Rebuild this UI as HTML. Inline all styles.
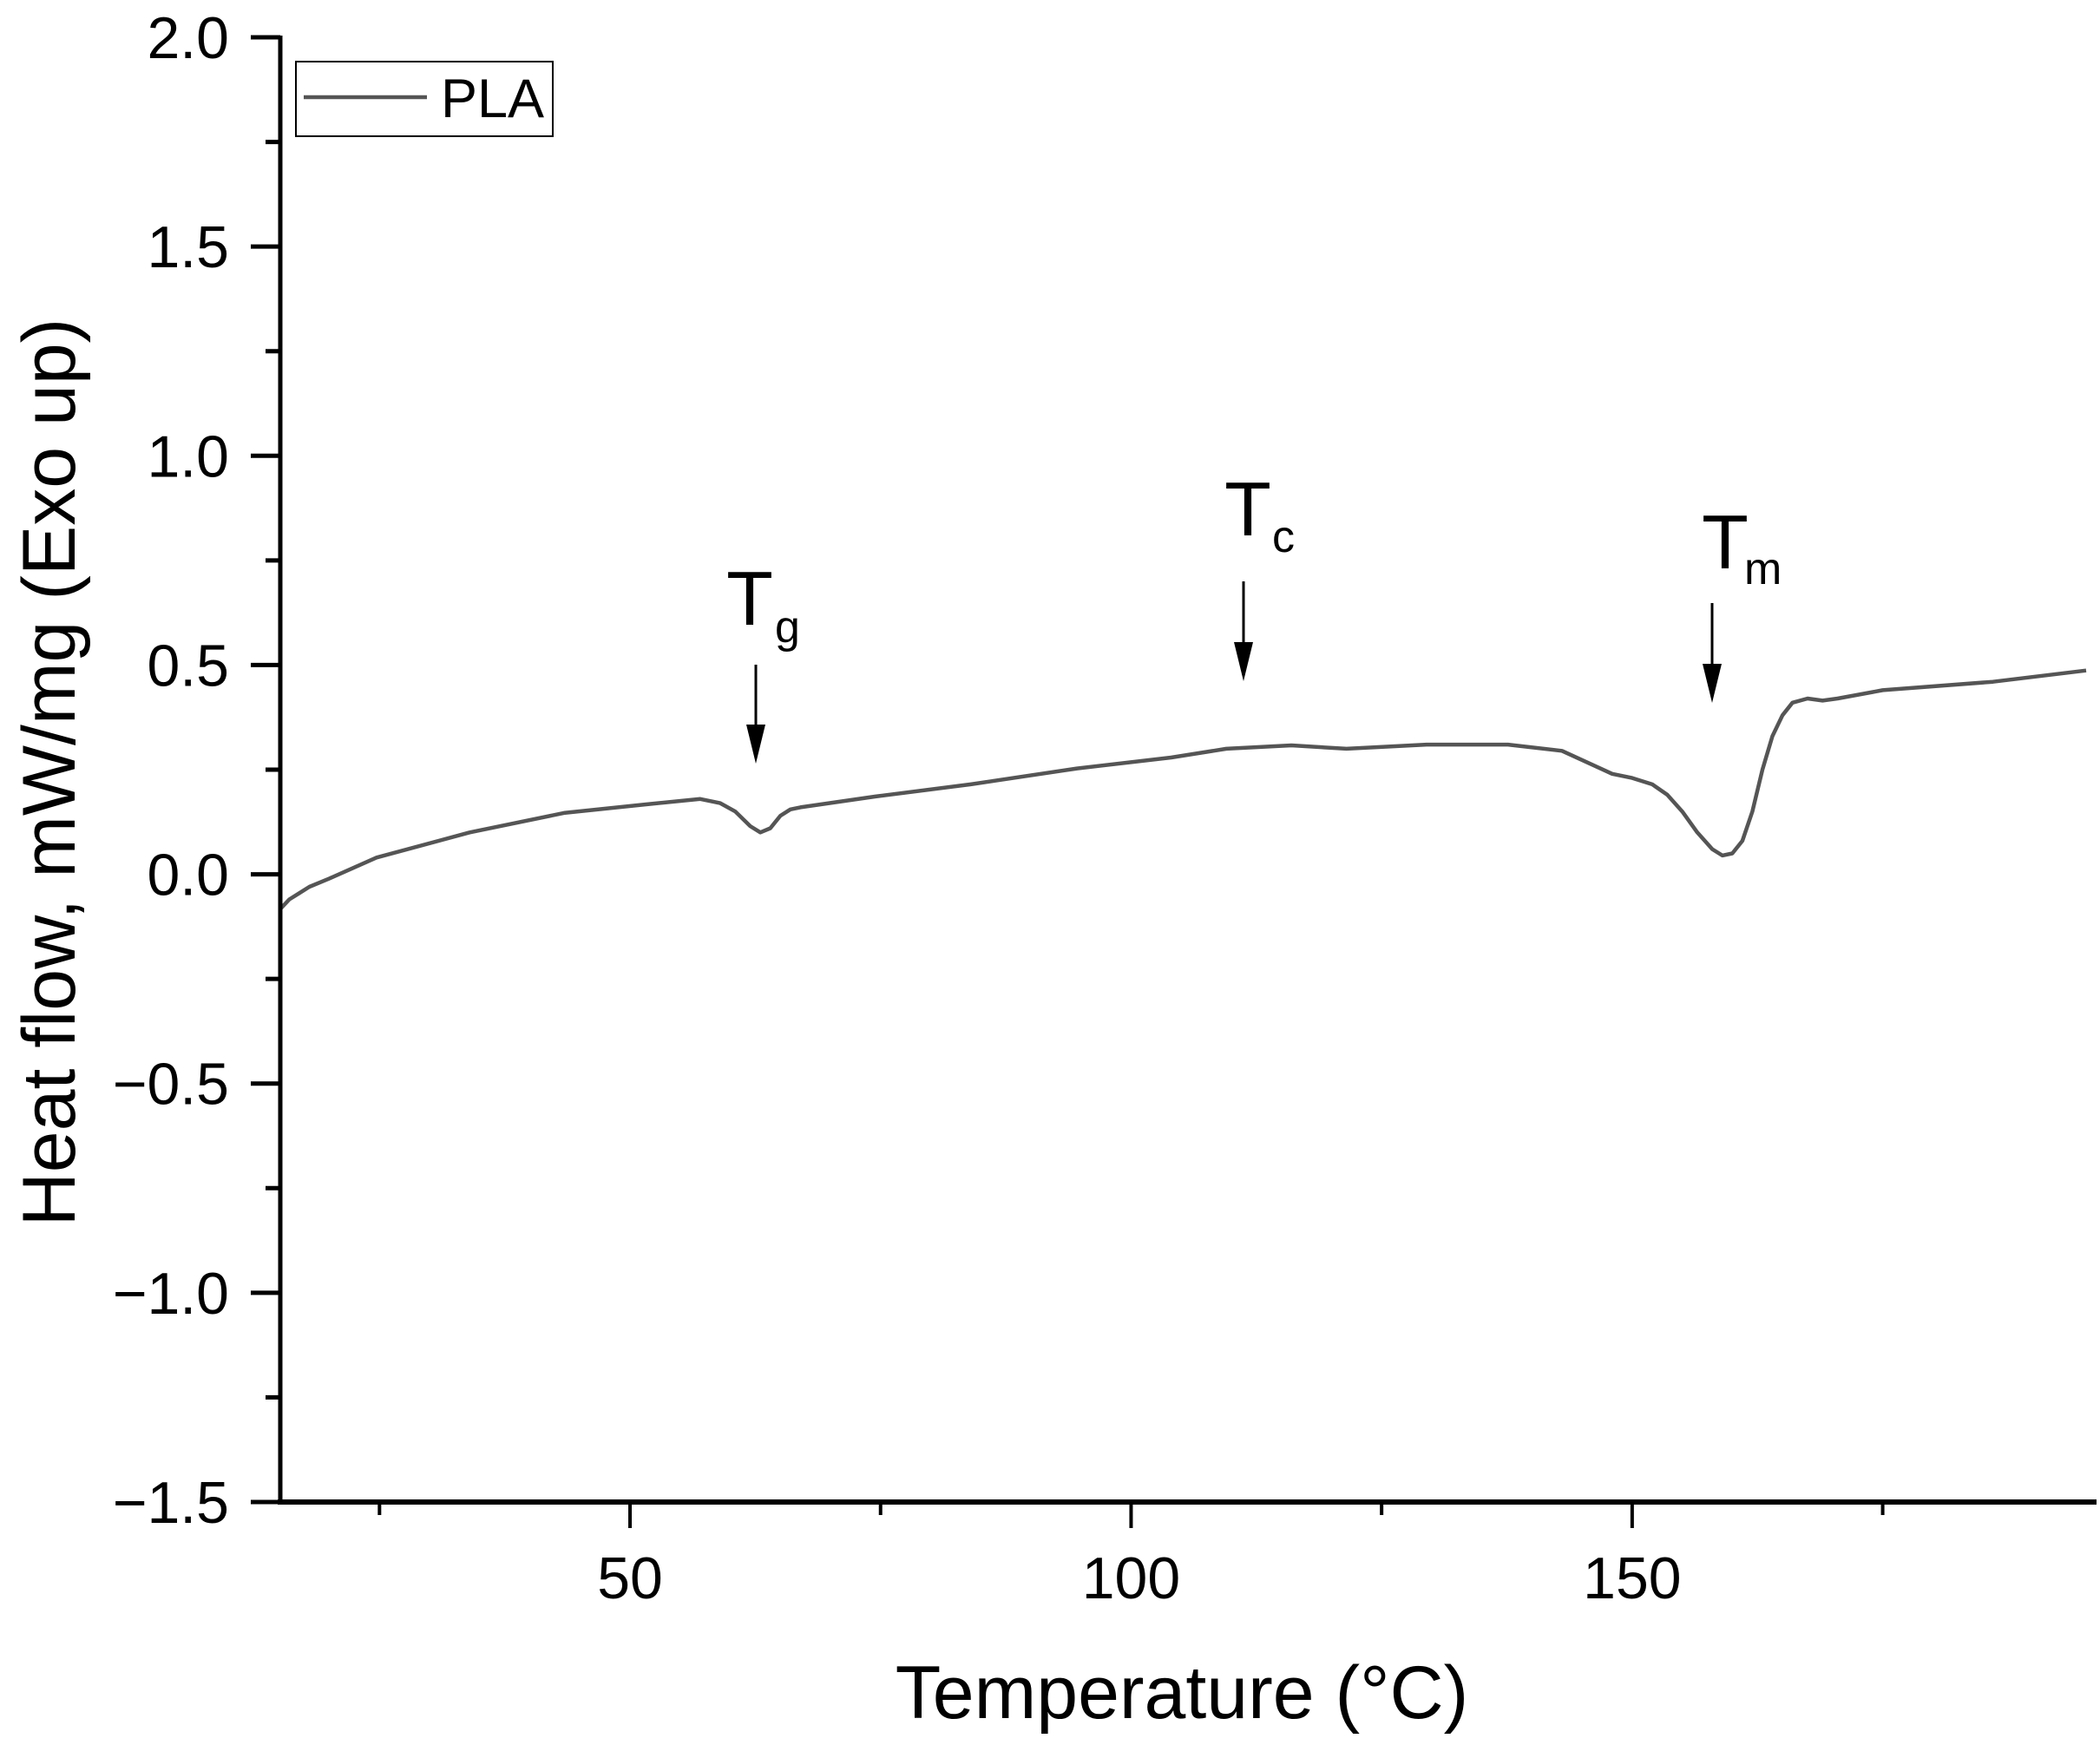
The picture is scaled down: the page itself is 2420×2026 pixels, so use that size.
<!DOCTYPE html>
<html><head><meta charset="utf-8"><style>
html,body{margin:0;padding:0;background:#fff;}
svg{display:block;font-family:"Liberation Sans",Arial,sans-serif;}
</style></head><body>
<svg id="chart" width="2420" height="2026" viewBox="0 0 2420 2026" xmlns="http://www.w3.org/2000/svg">
<g id="plot"></g>
</svg>
<script>
const temps = [15,16,17,18,20,24.7,34,43.5,51.6,57,59,60.5,62,63,64,65,66,67,74.5,84,94.6,104,109.5,116,121.5,129.5,137.6,143,148,150,152,153.5,155,156.5,158,159,160,161,162,163,164,165,166,167.5,169,170.5,175,186,195.3];
const heatFlow = [-0.083,-0.06,-0.045,-0.03,-0.01,0.04,0.10,0.147,0.167,0.18,0.17,0.15,0.115,0.10,0.11,0.14,0.155,0.16,0.186,0.215,0.253,0.279,0.30,0.308,0.30,0.31,0.31,0.295,0.24,0.23,0.215,0.19,0.15,0.10,0.06,0.045,0.05,0.08,0.15,0.25,0.33,0.38,0.41,0.42,0.415,0.42,0.44,0.46,0.487];
const yTicks = [2.0,1.5,1.0,0.5,0.0,-0.5,-1.0,-1.5];
const yTickLabels = ["2.0","1.5","1.0","0.5","0.0","\u22120.5","\u22121.0","\u22121.5"];
const xTicks = [50,100,150];
const xTickLabels = ["50","100","150"];

const NS="http://www.w3.org/2000/svg";
const X0=323, X1=2404, XMIN=15.1, XMAX=195.3;
const Y0=43, Y1=1731, YMAX=2.0, YMIN=-1.5;
const xs=v=>X0+(v-XMIN)/(XMAX-XMIN)*(X1-X0);
const ys=v=>Y0+(YMAX-v)/(YMAX-YMIN)*(Y1-Y0);
const g=document.getElementById('plot');
function mk(tag,attrs,parent){const e=document.createElementNS(NS,tag);for(const k in attrs)e.setAttribute(k,attrs[k]);(parent||g).appendChild(e);return e;}

// curve
let d=temps.map((t,i)=>(i?'L':'M')+Math.max(X0,xs(t)).toFixed(1)+','+ys(heatFlow[i]).toFixed(1)).join(' ');
const curve=mk('path',{d:d,fill:'none',stroke:'#555','stroke-width':4.5,'stroke-linejoin':'round'});



// axes
const ya=mk('line',{x1:X0,y1:Y0-2,x2:X0,y2:Y1,stroke:'#000','stroke-width':5});


const xa=mk('line',{x1:X0-3,y1:Y1,x2:X1+12,y2:Y1,stroke:'#000','stroke-width':6});



// y ticks
yTicks.forEach((v,i)=>{
  const t=mk('line',{x1:X0-34,y1:ys(v),x2:X0,y2:ys(v),stroke:'#000','stroke-width':5});
  
  
  const l=mk('text',{x:264,y:ys(v)+24,'font-size':68,'text-anchor':'end',fill:'#000'});
  l.textContent=yTickLabels[i];
  
  
  if(i<yTicks.length-1){
    const m=mk('line',{x1:X0-17,y1:ys(v-0.25),x2:X0,y2:ys(v-0.25),stroke:'#000','stroke-width':5});
    
    
  }
});
// x ticks
for(let v=25;v<=190;v+=25){
  const major=v%50===0;
  const t=mk('line',{x1:xs(v),y1:Y1,x2:xs(v),y2:Y1+(major?30:15),stroke:'#000','stroke-width':4});
  
  
}
xTicks.forEach((v,i)=>{
  const l=mk('text',{x:xs(v),y:1842,'font-size':68,'text-anchor':'middle',fill:'#000'});
  l.textContent=xTickLabels[i];
  
  
});

// titles
const xt=mk('text',{x:1362,y:1980,'font-size':86,'text-anchor':'middle',fill:'#000'});
xt.textContent='Temperature (°C)';


const yt=mk('text',{x:0,y:0,'font-size':86,'text-anchor':'middle',fill:'#000',transform:'translate(86,890) rotate(-90)'});
yt.textContent='Heat flow, mW/mg (Exo up)';



// legend
const lg=mk('g',{});


mk('rect',{x:341,y:71,width:296,height:86,fill:'#fff',stroke:'#000','stroke-width':2},lg);
const ll=mk('line',{x1:350,y1:112,x2:492,y2:112,stroke:'#555','stroke-width':4.5},lg);


const lt=mk('text',{x:508,y:135,'font-size':63,fill:'#000'},lg);
lt.textContent='PLA';



// annotations
function ann(name,tx,tb,sub,sx,sb,ax,a1,a2){
  const grp=mk('g',{});
  
  
  const t=mk('text',{x:tx,y:tb,'font-size':88,'text-anchor':'middle',fill:'#000'},grp);
  t.textContent='T';
  const s=mk('text',{x:sx,y:sb,'font-size':52,fill:'#000'},grp);
  s.textContent=sub;
  mk('line',{x1:ax,y1:a1,x2:ax,y2:a2-40,stroke:'#000','stroke-width':3},grp);
  mk('polygon',{points:`${ax-11},${a2-45} ${ax+11},${a2-45} ${ax},${a2}`,fill:'#000'},grp);
}
ann('tg-label',864,720,'g',893,740,871,766,880);
ann('tc-label',1438,617,'c',1466,636,1433,670,785);
ann('tm-label',1988,655,'m',2010,673,1973,695,810);
</script>
</body></html>
